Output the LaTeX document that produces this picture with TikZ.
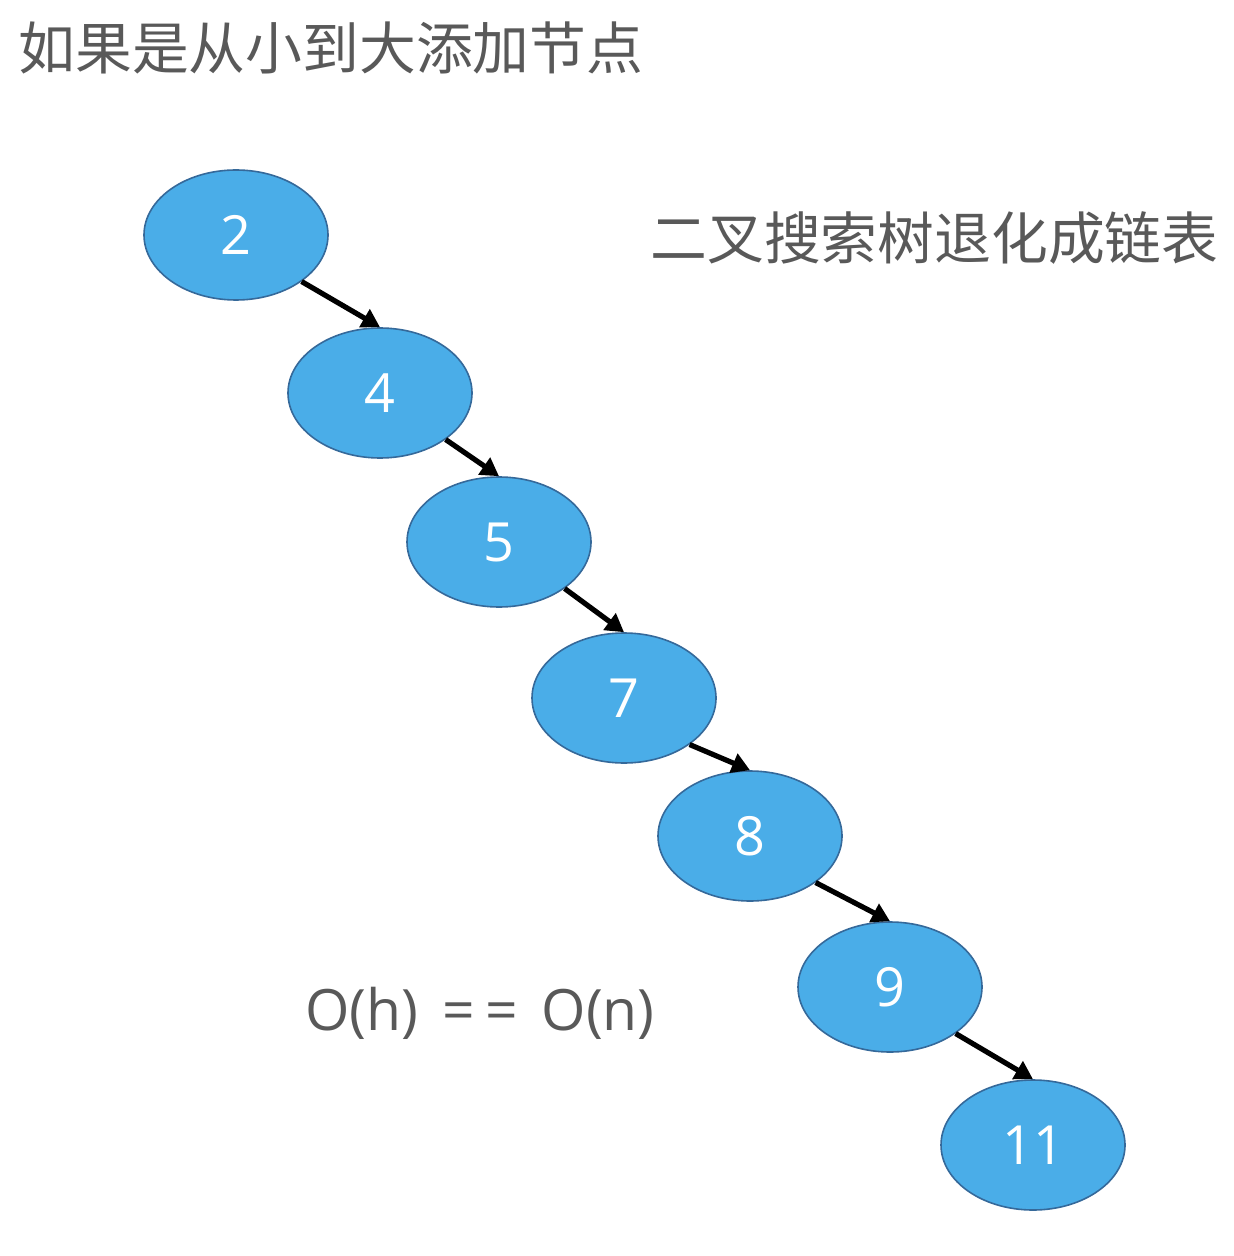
\documentclass[tikz,border=0pt]{standalone}
\usepackage{fontspec}
\setmainfont{Open Sans}
\newfontfamily\cjk{Noto Sans CJK SC}
\usetikzlibrary{shapes.geometric,arrows.meta}
\definecolor{nodeblue}{HTML}{4AADE8}
\definecolor{edgeblue}{HTML}{35699A}
\definecolor{textgray}{HTML}{595959}

\begin{document}
\begin{tikzpicture}[x=0.5pt,y=-0.5pt,
  knoten/.style = {ellipse,fill=nodeblue,draw=edgeblue,line width=0.8pt,
    minimum width=92pt,minimum height=65pt,inner sep=0pt,
    text=white,font=\fontsize{27}{30}\selectfont},
  pfeil/.style = {line width=2.6pt,-{Triangle[length=9pt,width=10pt]}},
  titel/.style = {text=textgray,font=\cjk\fontsize{28.4}{32}\selectfont,inner sep=0pt}]
\useasboundingbox (0,0) rectangle (1234,1256);

\node[titel,anchor=west] (T1) at (18,48) {如果是从小到大添加节点};
\node[titel,anchor=west] (T2) at (650,238) {二叉搜索树退化成链表};
\node[text=textgray,font=\fontsize{28.5}{30}\selectfont] (O) at (480,1013)
  {O(h)\hspace{12pt}=\hspace{5pt}=\hspace{12pt}O(n)};

\node[knoten] (N2) at (236,235) {2};
\node[knoten] (N4) at (380,393) {4};
\node[knoten] (N5) at (499,542) {5};
\node[knoten] (N7) at (624,698) {7};
\node[knoten] (N8) at (750,836) {8};
\node[knoten] (N9) at (890,987) {9};
\node[knoten] (N11) at (1033,1145) {11};

\draw[pfeil] (N2.south east) -- (N4.north);
\draw[pfeil] (N4.south east) -- (N5.north);
\draw[pfeil] (N5.south east) -- (N7.north);
\draw[pfeil] (N7.south east) -- (N8.north);
\draw[pfeil] (N8.south east) -- (N9.north);
\draw[pfeil] (N9.south east) -- (N11.north);
\end{tikzpicture}
\end{document}
